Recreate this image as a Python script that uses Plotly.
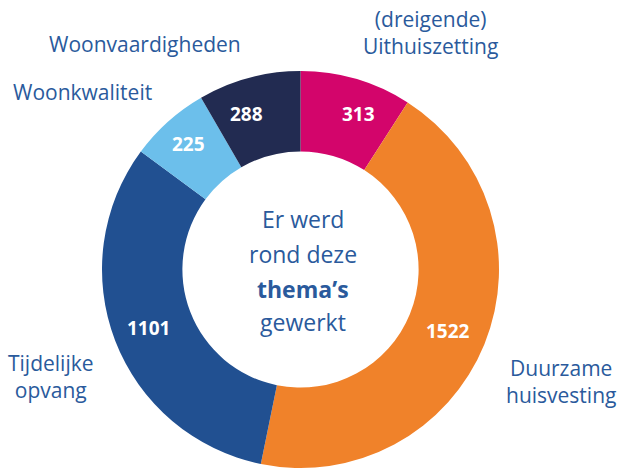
import plotly.graph_objects as go

categories = ["(dreigende) Uithuiszetting", "Duurzame huisvesting", "Tijdelijke opvang",
              "Woonkwaliteit", "Woonvaardigheden"]
values = [313, 1522, 1101, 225, 288]
colors = ["#D3056B", "#F0822A", "#215091", "#6CBFEB", "#222B51"]

center_lines = ["Er werd", "rond deze", "<b>thema’s</b>", "gewerkt"]

W, H = 619, 470
TXT = "#2A5A9C"
FONT = "Open Sans"

cx, cy, r = 300.5, 269.5, 198.5

fig = go.Figure(go.Pie(
    labels=categories,
    values=values,
    marker=dict(colors=colors, line=dict(width=0)),
    hole=0.595,
    sort=False,
    direction="clockwise",
    rotation=0,
    textinfo="none",
    hoverinfo="label+value",
    showlegend=False,
    domain=dict(x=[(cx - r) / W, (cx + r) / W], y=[(H - cy - r) / H, (H - cy + r) / H]),
))

def px(x, y):
    return x / W, 1 - y / H

anns = []
def add(text, x, y, size=21, color=TXT):
    ax, ay = px(x, y)
    anns.append(dict(text=text, x=ax, y=ay, xref="paper", yref="paper", showarrow=False,
                     xanchor="center", yanchor="middle", align="center",
                     font=dict(family=FONT, size=size, color=color)))

# value labels inside the slices (placed as in the reference)
value_pos = [(358, 114), (448, 331), (148, 328), (188, 144), (246, 114)]
for v, (x, y) in zip(values, value_pos):
    add(f"<b>{v}</b>", x, y, size=19, color="white")

# outside category labels
add("(dreigende)<br>Uithuiszetting", 430.5, 32.5)
add("Woonvaardigheden", 145, 44)
add("Woonkwaliteit", 82, 92)
add("Tijdelijke<br>opvang", 50.5, 376.5)
add("Duurzame<br>huisvesting", 560.5, 381.5)

# center text
for line, y in zip(center_lines, [219, 254, 289, 322]):
    add(line, 303, y, size=23)

fig.update_layout(
    width=W, height=H,
    margin=dict(l=0, r=0, t=0, b=0),
    paper_bgcolor="white", plot_bgcolor="white",
    annotations=anns,
)

fig.write_html("out.html", config={"displayModeBar": False},
               post_script="document.body.style.margin='0px';")
